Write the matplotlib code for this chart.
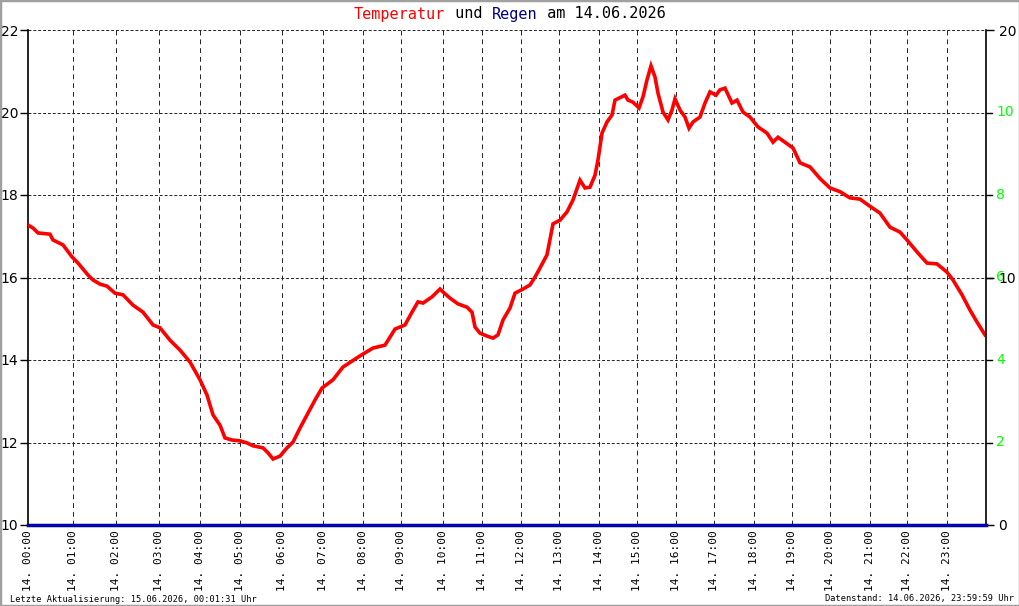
import numpy as np
import matplotlib
matplotlib.use('Agg')
import matplotlib.pyplot as plt
from matplotlib.patches import Rectangle
import matplotlib.transforms as mtransforms

# sample index (about 1.5 min per sample) where each hour starts
hour_idx = [0, 45, 88, 131, 172, 212, 254, 295, 335, 373, 415, 454,
            493, 531, 571, 609, 648, 686, 726, 764, 802, 842, 879, 919]
hour_labels = ['14. %02d:00' % h for h in range(24)]
n_samples = 958

# temperature readings (sample index, deg C)
t_idx = [0, 5, 10, 22, 25, 35, 44, 50, 60, 65, 72, 79, 87, 95, 105, 115,
         125, 132, 142, 152, 162, 172, 179, 185, 192, 197, 204, 212, 219, 225,
         235, 240, 245, 252, 259, 265, 272, 279, 287, 294, 305, 315, 332, 345,
         357, 367, 377, 384, 390, 395, 404, 412, 415, 422, 430, 439, 444, 447,
         452, 459, 465, 470, 475, 482, 487, 495, 502, 507, 512, 519, 525, 532,
         539, 545, 552, 557, 562, 567, 570, 574, 579, 584, 587, 597, 600, 605,
         611, 615, 619, 623, 627, 630, 635, 640, 644, 647, 652, 657, 661, 665,
         672, 677, 682, 688, 692, 697, 704, 709, 715, 722, 730, 739, 745, 750,
         757, 765, 772, 782, 792, 802, 812, 822, 832, 840, 852, 862, 872, 879,
         889, 899, 909, 919, 925, 934, 942, 949, 957]
temp = [17.27, 17.20, 17.08, 17.05, 16.91, 16.79, 16.50, 16.35, 16.06, 15.94,
        15.84, 15.79, 15.62, 15.58, 15.33, 15.16, 14.85, 14.78, 14.48, 14.24,
        13.95, 13.52, 13.15, 12.67, 12.42, 12.11, 12.06, 12.04, 11.99, 11.92,
        11.87, 11.75, 11.60, 11.67, 11.87, 12.01, 12.35, 12.67, 13.03, 13.32,
        13.52, 13.83, 14.10, 14.29, 14.36, 14.75, 14.85, 15.16, 15.41, 15.38,
        15.53, 15.72, 15.65, 15.50, 15.36, 15.28, 15.16, 14.80, 14.65, 14.58,
        14.53, 14.61, 14.97, 15.26, 15.62, 15.72, 15.82, 16.01, 16.23, 16.55,
        17.30, 17.39, 17.59, 17.88, 18.36, 18.17, 18.19, 18.48, 18.85, 19.50,
        19.77, 19.94, 20.30, 20.42, 20.30, 20.25, 20.11, 20.38, 20.79, 21.13,
        20.86, 20.47, 20.01, 19.82, 20.06, 20.33, 20.06, 19.89, 19.62, 19.77,
        19.89, 20.23, 20.50, 20.42, 20.55, 20.59, 20.23, 20.30, 20.01, 19.89,
        19.65, 19.50, 19.28, 19.40, 19.28, 19.14, 18.78, 18.68, 18.40, 18.17,
        18.08, 17.93, 17.90, 17.76, 17.56, 17.22, 17.10, 16.91, 16.62, 16.35,
        16.33, 16.13, 15.94, 15.58, 15.21, 14.92, 14.61]

# rain (mm) - none on this day
rain_idx = [0, n_samples]
rain = [0, 0]

temp_ticks = [10, 12, 14, 16, 18, 20, 22]
rain_ticks = [0, 10, 20]
green_ticks = [12, 14, 16, 18, 20]
green_labels = ['2', '4', '6', '8', '10']

mono = 'DejaVu Sans Mono'

fig = plt.figure(figsize=(10.2, 6.06), dpi=100)
fig.patch.set_facecolor('white')
fig.patches.append(Rectangle((0, 0), 1, 1, transform=fig.transFigure,
                             fill=False, edgecolor='#a0a0a0', lw=2.5))

ax = fig.add_axes([28 / 1020, 81 / 606, 958 / 1020, 495 / 606])
ax.set_xlim(0, n_samples)
ax.set_ylim(10, 22)

# grid
for y in temp_ticks[1:]:
    ax.axhline(y, color='#222222', lw=0.7, ls=(0, (3, 2)), zorder=1)
for x in hour_idx[1:]:
    ax.axvline(x, color='#222222', lw=0.7, ls=(0, (5, 4)), zorder=1)

ax.plot(t_idx, temp, color='red', lw=2.6, zorder=3, solid_joinstyle='miter')

ax.spines['top'].set_visible(False)
ax.spines['right'].set_visible(False)
ax.spines['left'].set_linewidth(1.2)
ax.spines['bottom'].set_linewidth(2.5)

ax.set_yticks(temp_ticks)
ax.set_yticklabels([str(v) for v in temp_ticks])
ax.tick_params(axis='y', direction='out', length=6, width=1, labelsize=10, pad=1)
ax.set_xticks(hour_idx)
ax.set_xticklabels(hour_labels, rotation=90, family=mono, fontsize=8)
ax.tick_params(axis='x', direction='in', length=0, pad=4)

# rain axis on the right
ax2 = ax.twinx()
ax2.set_ylim(0, 20)
ax2.plot(rain_idx, rain, color='#0000cc', lw=2, zorder=4, clip_on=False)
for s in ['top', 'left', 'bottom']:
    ax2.spines[s].set_visible(False)
ax2.spines['right'].set_linewidth(1.2)
ax2.set_yticks(rain_ticks)
ax2.set_yticklabels([str(v) for v in rain_ticks])
ax2.tick_params(axis='y', direction='out', length=6, width=1, labelsize=10, pad=3)

# extra tick marks and green labels on the right side
trans = mtransforms.blended_transform_factory(ax.transAxes, ax.transData)
for y, lab in zip(green_ticks, green_labels):
    ax.plot([1.0, 1.0 + 6 / 958], [y, y], color='black', lw=1, transform=trans,
            clip_on=False)
    ax.text(1.0 + 10 / 958, y, lab, color='#00ff00', fontsize=10,
            transform=trans, ha='left', va='center')

# title in coloured parts
parts = [('Temperatur', 'red'), (' und ', 'black'), ('Regen', '#000080'),
         (' am 14.06.2026', 'black')]
fs = 11
cw = 0.602 * fs * 100 / 72 / 1020
total = sum(len(p) for p, c in parts)
x0 = 0.5 - total * cw / 2
for p, c in parts:
    fig.text(x0, 1 - 14 / 606, p, color=c, family=mono, fontsize=fs,
             ha='left', va='center')
    x0 += len(p) * cw

fig.text(10 / 1020, 1 - 599 / 606, 'Letzte Aktualisierung: 15.06.2026, 00:01:31 Uhr',
         family=mono, fontsize=6.2, ha='left', va='center')
fig.text(1014 / 1020, 1 - 599 / 606, 'Datenstand: 14.06.2026, 23:59:59 Uhr',
         family=mono, fontsize=6.2, ha='right', va='center')

plt.savefig('out.png', dpi=100)
